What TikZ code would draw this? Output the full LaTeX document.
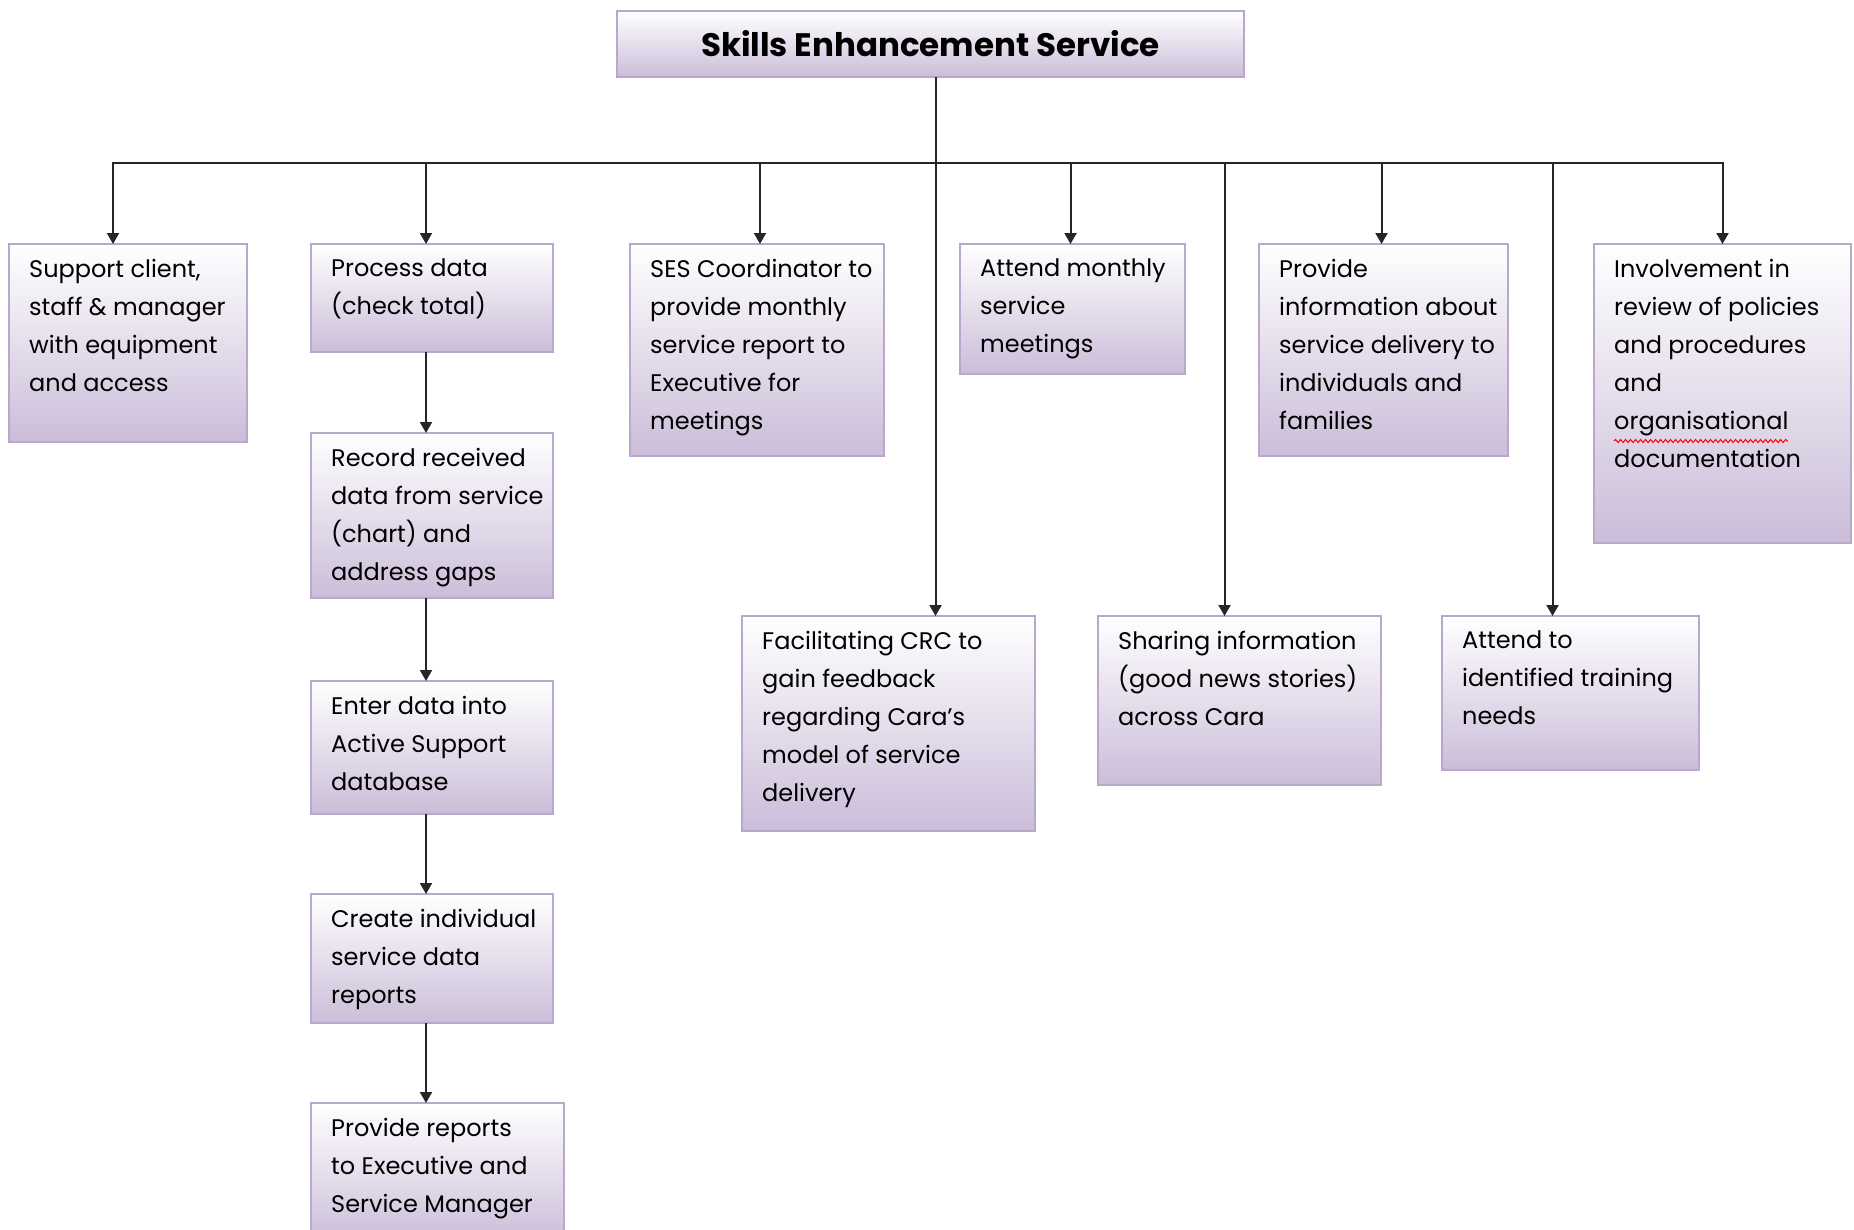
\documentclass[tikz,border=0pt]{standalone}
\usepackage{fontspec}
\setmainfont{Poppins}
\usetikzlibrary{arrows.meta,decorations.pathmorphing}
\definecolor{boxline}{RGB}{185,168,206}
\definecolor{boxfill}{RGB}{203,189,217}

\begin{document}
\begin{tikzpicture}[x=1pt, y=-1pt,
    box/.style={draw=boxline, line width=1.5pt, top color=white, bottom color=boxfill,
        anchor=north west, inner sep=0pt, outer sep=0pt},
    txt/.style={anchor=north west, align=left, inner xsep=20pt, inner ysep=15pt,
        font=\fontsize{24}{38}\selectfont, execute at begin node=\strut},
    arr/.style={draw=black!85, line width=2pt, -{Triangle[width=12pt,length=11pt]}}]
    \useasboundingbox (0,0) rectangle (1854,1229);

    % title
    \node[box, minimum width=627pt, minimum height=66pt,
        font=\fontsize{32.5}{38}\selectfont\bfseries] (ses) at (617,11) {Skills Enhancement Service};
    \coordinate (top) at ([xshift=5pt]ses.south);
    \coordinate (bus) at (top |- 0,163);

    % top row
    \node[box, minimum width=238pt, minimum height=198pt,
        label={[txt]north west:{Support client,\\staff \& manager\\with equipment\\and access}}] (sup) at (9,244) {};
    \node[box, minimum width=242pt, minimum height=108pt,
        label={[txt]north west:{Process data\\(check total)}}] (proc) at (311,244) {};
    \node[box, minimum width=254pt, minimum height=212pt,
        label={[txt]north west:{SES Coordinator to\\provide monthly\\service report to\\Executive for\\meetings}}] (coord) at (630,244) {};
    \node[box, minimum width=225pt, minimum height=130pt,
        label={[txt]north west:{Attend monthly\\service\\meetings}}] (attm) at (960,244) {};
    \node[box, minimum width=249pt, minimum height=212pt,
        label={[txt]north west:{Provide\\information about\\service delivery to\\individuals and\\families}}] (info) at (1259,244) {};
    \node[box, minimum width=257pt, minimum height=299pt,
        label={[txt]north west:{Involvement in\\review of policies\\and procedures\\and\\organisational\\documentation}}] (inv) at (1594,244) {};

    % data column
    \node[box, minimum width=242pt, minimum height=165pt,
        label={[txt]north west:{Record received\\data from service\\(chart) and\\address gaps}}] (rec) at (311,433) {};
    \node[box, minimum width=242pt, minimum height=133pt,
        label={[txt]north west:{Enter data into\\Active Support\\database}}] (ent) at (311,681) {};
    \node[box, minimum width=242pt, minimum height=129pt,
        label={[txt]north west:{Create individual\\service data\\reports}}] (cre) at (311,894) {};
    \node[box, minimum width=253pt, minimum height=140pt,
        label={[txt]north west:{Provide reports\\to Executive and\\Service Manager}}] (rep) at (311,1103) {};

    % second row
    \node[box, minimum width=293pt, minimum height=215pt,
        label={[txt]north west:{Facilitating CRC to\\gain feedback\\regarding Cara’s\\model of service\\delivery}}] (fac) at (742,616) {};
    \node[box, minimum width=283pt, minimum height=169pt,
        label={[txt]north west:{Sharing information\\(good news stories)\\across Cara}}] (shr) at (1098,616) {};
    \node[box, minimum width=257pt, minimum height=154pt,
        label={[txt]north west:{Attend to\\identified training\\needs}}] (att) at (1442,616) {};

    % spelling mark
    \draw[red, line width=1pt, decorate, decoration={snake, amplitude=1.5pt, segment length=5pt}]
        (1614,441) -- (1788,441);

    % connectors
    \draw[arr] (top) -- (top |- fac.north);
    \draw[arr] (bus) -| ([xshift=-15pt]sup.north);
    \draw[arr] (bus) -| ([xshift=-6pt]proc.north);
    \draw[arr] (bus) -| ([xshift=3pt]coord.north);
    \draw[arr] (bus) -| ([xshift=-2pt]attm.north);
    \draw[arr] (bus) -| ([xshift=-2pt]info.north);
    \draw[arr] (bus) -| (inv.north);
    \draw[arr] (bus) -| ([xshift=-15pt]shr.north);
    \draw[arr] (bus) -| ([xshift=-18pt]att.north);
    \draw[arr] ([xshift=-6pt]proc.south) -- ([xshift=-6pt]rec.north);
    \draw[arr] ([xshift=-6pt]rec.south) -- ([xshift=-6pt]ent.north);
    \draw[arr] ([xshift=-6pt]ent.south) -- ([xshift=-6pt]cre.north);
    \draw[arr] ([xshift=-6pt]cre.south) -- ([xshift=-6pt]cre.south |- rep.north);
\end{tikzpicture}
\end{document}
